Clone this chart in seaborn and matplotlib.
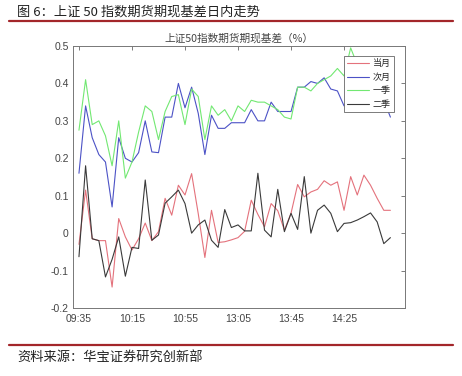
import numpy as np
import pandas as pd
import matplotlib
matplotlib.use('Agg')
import matplotlib.pyplot as plt
import seaborn as sns
from matplotlib.lines import Line2D

# 5-minute bars, morning and afternoon sessions
times = ['09:35', '09:40', '09:45', '09:50', '09:55', '10:00', '10:05', '10:10',
         '10:15', '10:20', '10:25', '10:30', '10:35', '10:40', '10:45', '10:50',
         '10:55', '11:00', '11:05', '11:10', '11:15', '11:20', '11:25', '11:30',
         '13:05', '13:10', '13:15', '13:20', '13:25', '13:30', '13:35', '13:40',
         '13:45', '13:50', '13:55', '14:00', '14:05', '14:10', '14:15', '14:20',
         '14:25', '14:30', '14:35', '14:40', '14:45', '14:50', '14:55', '15:00']
tick_labels = ['09:35', '10:15', '10:55', '13:05', '13:45', '14:25']

dang_yue = [-0.03, 0.115, -0.015, -0.02, -0.02, -0.144, 0.039, -0.01,
            -0.045, -0.015, 0.027, -0.02, 0.004, 0.093, 0.048, 0.128,
            0.102, 0.159, 0.052, -0.065, 0.061, -0.025, -0.023, -0.018,
            -0.012, 0.005, 0.088, 0.05, 0.017, 0.079, 0.06, 0.008,
            0.053, 0.13, 0.097, 0.11, 0.117, 0.14, 0.128, 0.137,
            0.061, 0.151, 0.102, 0.155, 0.128, 0.093, 0.061, 0.061]
ci_yue = [0.16, 0.34, 0.255, 0.21, 0.19, 0.07, 0.255, 0.2,
          0.19, 0.215, 0.30, 0.217, 0.215, 0.31, 0.31, 0.40,
          0.335, 0.39, 0.32, 0.21, 0.315, 0.28, 0.28, 0.295,
          0.295, 0.295, 0.33, 0.30, 0.30, 0.35, 0.325, 0.325,
          0.325, 0.39, 0.39, 0.405, 0.40, 0.415, 0.385, 0.38,
          0.34, 0.36, 0.38, 0.37, 0.37, 0.36, 0.355, 0.31]
yi_ji = [0.275, 0.41, 0.29, 0.30, 0.26, 0.18, 0.30, 0.147,
         0.19, 0.27, 0.34, 0.325, 0.25, 0.325, 0.365, 0.37,
         0.29, 0.385, 0.365, 0.25, 0.34, 0.315, 0.33, 0.30,
         0.34, 0.325, 0.355, 0.35, 0.35, 0.34, 0.33, 0.31,
         0.305, 0.39, 0.39, 0.38, 0.40, 0.41, 0.42, 0.44,
         0.42, 0.495, 0.45, 0.44, 0.43, 0.42, 0.40, 0.38]
er_ji = [-0.063, 0.18, -0.015, -0.02, -0.117, -0.07, -0.01, -0.115,
         -0.038, -0.041, 0.142, -0.019, -0.005, 0.08, 0.097, 0.115,
         0.079, 0.0, 0.022, 0.035, -0.019, -0.038, 0.063, 0.015,
         0.022, 0.006, 0.006, 0.16, 0.008, -0.01, 0.117, 0.004,
         0.053, 0.01, 0.151, 0.0, 0.061, 0.075, 0.053, 0.004,
         0.026, 0.028, 0.035, 0.044, 0.054, 0.03, -0.028, -0.012]

df = pd.DataFrame({'time': times, '当月': dang_yue, '次月': ci_yue,
                   '一季': yi_ji, '二季': er_ji})
df['idx'] = np.arange(len(df))
long_df = df.melt(id_vars=['idx', 'time'], var_name='合约', value_name='基差')

sns.set_theme(style='white')
plt.rcParams['font.family'] = ['Liberation Sans', 'Noto Sans CJK SC', 'DejaVu Sans']
plt.rcParams['axes.unicode_minus'] = False

W, H = 462, 376
fig = plt.figure(figsize=(W / 100, H / 100), dpi=100)
ax = fig.add_axes([73 / W, 1 - 308 / H, 332 / W, 262 / H])

palette = {'当月': '#e4727c', '次月': '#4c52c6', '一季': '#72e872', '二季': '#3a3a3a'}
sns.lineplot(data=long_df, x='idx', y='基差', hue='合约', palette=palette,
             linewidth=0.8, ax=ax, legend=False)

ax.set_xlim(-0.9, 49.2)
ax.set_ylim(-0.2, 0.5)
ax.set_yticks([-0.2, -0.1, 0, 0.1, 0.2, 0.3, 0.4, 0.5])
ax.set_yticklabels(['-0.2', '-0.1', '0', '0.1', '0.2', '0.3', '0.4', '0.5'])
ax.set_xticks([times.index(t) for t in tick_labels])
ax.set_xticklabels(tick_labels)
ax.set_xlabel('')
ax.set_ylabel('')
ax.tick_params(direction='in', length=3, width=0.6, colors='#666666',
               labelcolor='#444444', labelsize=7.5, top=True, right=True)
ax.tick_params(axis='x', pad=4)
ax.tick_params(axis='y', pad=3)
for s in ax.spines.values():
    s.set_color('#777777')
    s.set_linewidth(0.7)

ax.set_title('上证50指数期货期现基差（%）', fontsize=7.7, color='#444444', pad=3,
             family=['Noto Sans CJK SC', 'DejaVu Sans'])

handles = [Line2D([], [], color=palette[k], lw=0.8) for k in ['当月', '次月', '一季', '二季']]
leg = ax.legend(handles, ['当月', '次月', '一季', '二季'], loc='upper right',
                bbox_to_anchor=(0.967, 0.962), borderaxespad=0, handlelength=2.5,
                handletextpad=0.4, borderpad=0.35, labelspacing=0.5,
                fancybox=False, framealpha=1, edgecolor='#666666',
                prop={'family': ['Noto Sans CJK SC'], 'size': 6.5})
leg.get_frame().set_linewidth(0.6)

fig.text(17 / W, 1 - 12 / H, '图 6：上证 50 指数期货期现基差日内走势', fontsize=9.5,
         va='center', ha='left', color='#222222',
         family=['Noto Sans CJK SC', 'DejaVu Sans'])
fig.add_artist(Line2D([9 / W, 453 / W], [1 - 21 / H, 1 - 21 / H], color='#a3262a', lw=1.6))
fig.add_artist(Line2D([9 / W, 453 / W], [1 - 345 / H, 1 - 345 / H], color='#a3262a', lw=1.6))
fig.text(17 / W, 1 - 357 / H, '资料来源：华宝证券研究创新部', fontsize=9.5,
         va='center', ha='left', color='#222222',
         family=['Noto Sans CJK SC', 'DejaVu Sans'])

fig.savefig('out.png', dpi=100)
